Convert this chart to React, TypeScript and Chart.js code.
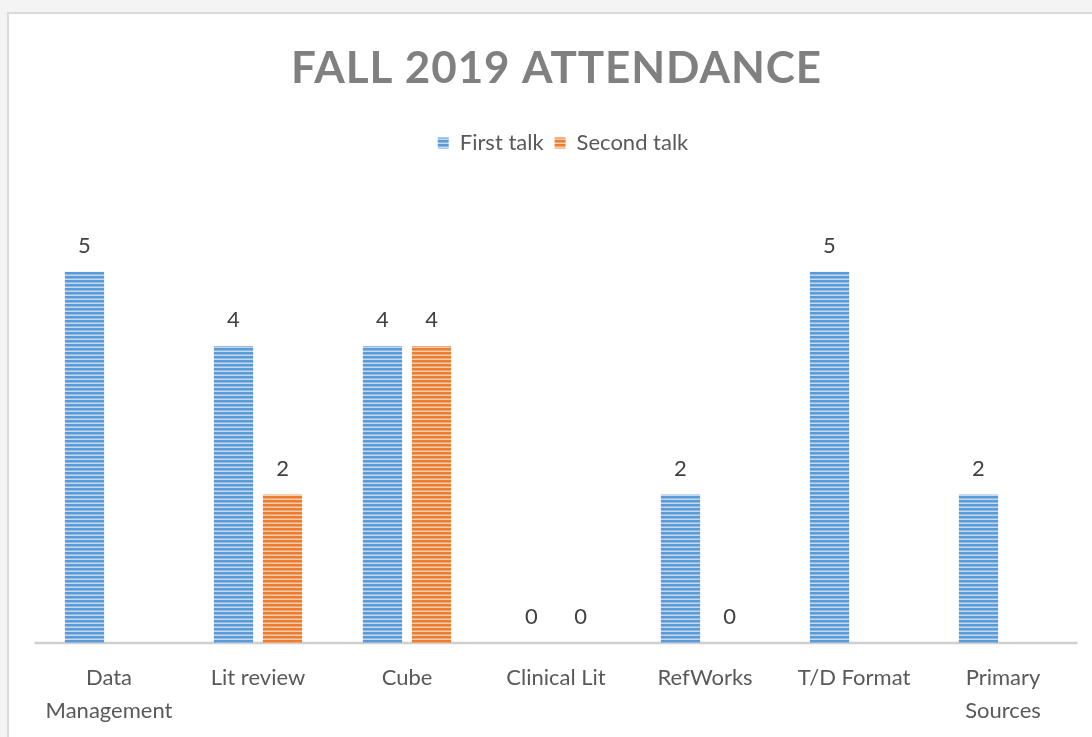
import React, { useEffect, useRef } from "react";
import { Chart, registerables } from "chart.js";

Chart.register(...registerables);

const categories: (string | string[])[] = [
  ["Data", "Management"],
  "Lit review",
  "Cube",
  "Clinical Lit",
  "RefWorks",
  "T/D Format",
  ["Primary", "Sources"],
];
const firstTalk: (number | null)[] = [5, 4, 4, 0, 2, 5, 2];
const secondTalk: (number | null)[] = [null, 2, 4, 0, 0, null, null];
const seriesNames = ["First talk", "Second talk"];
const titleText = "FALL 2019 ATTENDANCE";

function makeStripe(base: string, light: string, mid: string): CanvasPattern | string {
  const c = document.createElement("canvas");
  c.width = 4;
  c.height = 4;
  const g = c.getContext("2d");
  if (!g) return base;
  g.fillStyle = base;
  g.fillRect(0, 0, 4, 4);
  g.fillStyle = mid;
  g.fillRect(0, 2, 4, 1);
  g.fillStyle = light;
  g.fillRect(0, 3, 4, 1);
  const p = g.createPattern(c, "repeat");
  return p || base;
}

function axisSpan(chart: any): [number, number] {
  const xs = chart.scales.x;
  const n = chart.data.labels.length;
  const t0 = xs.getPixelForTick(0);
  const t1 = xs.getPixelForTick(1);
  const tn = xs.getPixelForTick(n - 1);
  const half = (t1 - t0) / 2;
  return [t0 - half, tn + half];
}

const valueLabels = {
  id: "valueLabels",
  afterLayout(chart: any) {
    if (chart.legend) {
      chart.legend.left += 7;
      chart.legend.right += 7;
    }
  },
  beforeDatasetsDraw(chart: any) {
    const ctx = chart.ctx;
    const [x1, x2] = axisSpan(chart);
    const y0 = chart.scales.y.getPixelForValue(0);
    ctx.save();
    ctx.strokeStyle = "#cfcfcf";
    ctx.lineWidth = 2.5;
    ctx.beginPath();
    ctx.moveTo(x1, y0);
    ctx.lineTo(x2, y0);
    ctx.stroke();
    ctx.restore();
  },
  afterDatasetsDraw(chart: any) {
    const ctx = chart.ctx;
    ctx.save();
    ctx.font = "22px Lato";
    ctx.fillStyle = "#404040";
    ctx.textAlign = "center";
    ctx.textBaseline = "middle";
    chart.data.datasets.forEach((ds: any, di: number) => {
      const meta = chart.getDatasetMeta(di);
      meta.data.forEach((el: any, i: number) => {
        const v = ds.data[i];
        if (v === null || v === undefined) return;
        ctx.fillText(String(v), el.x, el.y - 26);
      });
    });
    ctx.restore();
  },
  afterDraw(chart: any) {
    const ctx = chart.ctx;
    const [x1, x2] = axisSpan(chart);
    ctx.save();
    (ctx as any).letterSpacing = "0.9px";
    ctx.font = "bold 44px Lato";
    ctx.fillStyle = "#808080";
    ctx.textAlign = "left";
    ctx.textBaseline = "alphabetic";
    const w = ctx.measureText(titleText).width;
    ctx.fillText(titleText, (x1 + x2) / 2 + 0.5 - w / 2, 83);
    ctx.restore();
  },
};

export default function App() {
  const ref = useRef<HTMLCanvasElement>(null);
  useEffect(() => {
    if (!ref.current) return;
    const blue = makeStripe("#5b9bd5", "#c3d9f1", "#8fb8e3");
    const orange = makeStripe("#ed7d31", "#f9ceb0", "#f2a56f");
    const chart = new Chart(ref.current, {
      type: "bar",
      data: {
        labels: categories,
        datasets: [
          { label: seriesNames[0], data: firstTalk, backgroundColor: blue as any, borderWidth: 0 },
          { label: seriesNames[1], data: secondTalk, backgroundColor: orange as any, borderWidth: 0 },
        ],
      },
      options: {
        animation: false,
        responsive: false,
        maintainAspectRatio: false,
        layout: { padding: { left: 34.5, right: 14.5, top: 0, bottom: 11 } },
        datasets: { bar: { categoryPercentage: 0.658, barPercentage: 0.8 } },
        plugins: {
          title: {
            display: true,
            text: titleText,
            color: "rgba(0,0,0,0)",
            font: { family: "Lato", size: 44, weight: "bold", lineHeight: 1 },
            padding: { top: 45, bottom: 32 },
          },
          legend: {
            display: true,
            position: "top",
            labels: {
              boxWidth: 11,
              boxHeight: 11,
              padding: 11,
              color: "#595959",
              font: { family: "Lato", size: 22 },
            },
          },
          tooltip: { enabled: false },
        },
        scales: {
          x: {
            grid: { display: false, drawTicks: false },
            border: { display: false },
            ticks: {
              color: "#595959",
              font: { family: "Lato", size: 22, lineHeight: 1.5 },
              padding: 18,
              maxRotation: 0,
              autoSkip: false,
            },
          },
          y: {
            display: false,
            min: 0,
            max: 6.45,
          },
        },
      },
      plugins: [valueLabels],
    });
    return () => chart.destroy();
  }, []);

  return (
    <div style={{ position: "fixed", left: 0, top: 0, width: 1092, height: 737, background: "#f4f4f4", overflow: "hidden" }}>
      <div
        style={{
          position: "absolute",
          left: 7,
          top: 12,
          width: 1200,
          height: 800,
          background: "#ffffff",
          border: "2px solid #dadada",
        }}
      />
      <canvas ref={ref} width={1092} height={756} style={{ position: "absolute", left: 0, top: 0 }} />
    </div>
  );
}
